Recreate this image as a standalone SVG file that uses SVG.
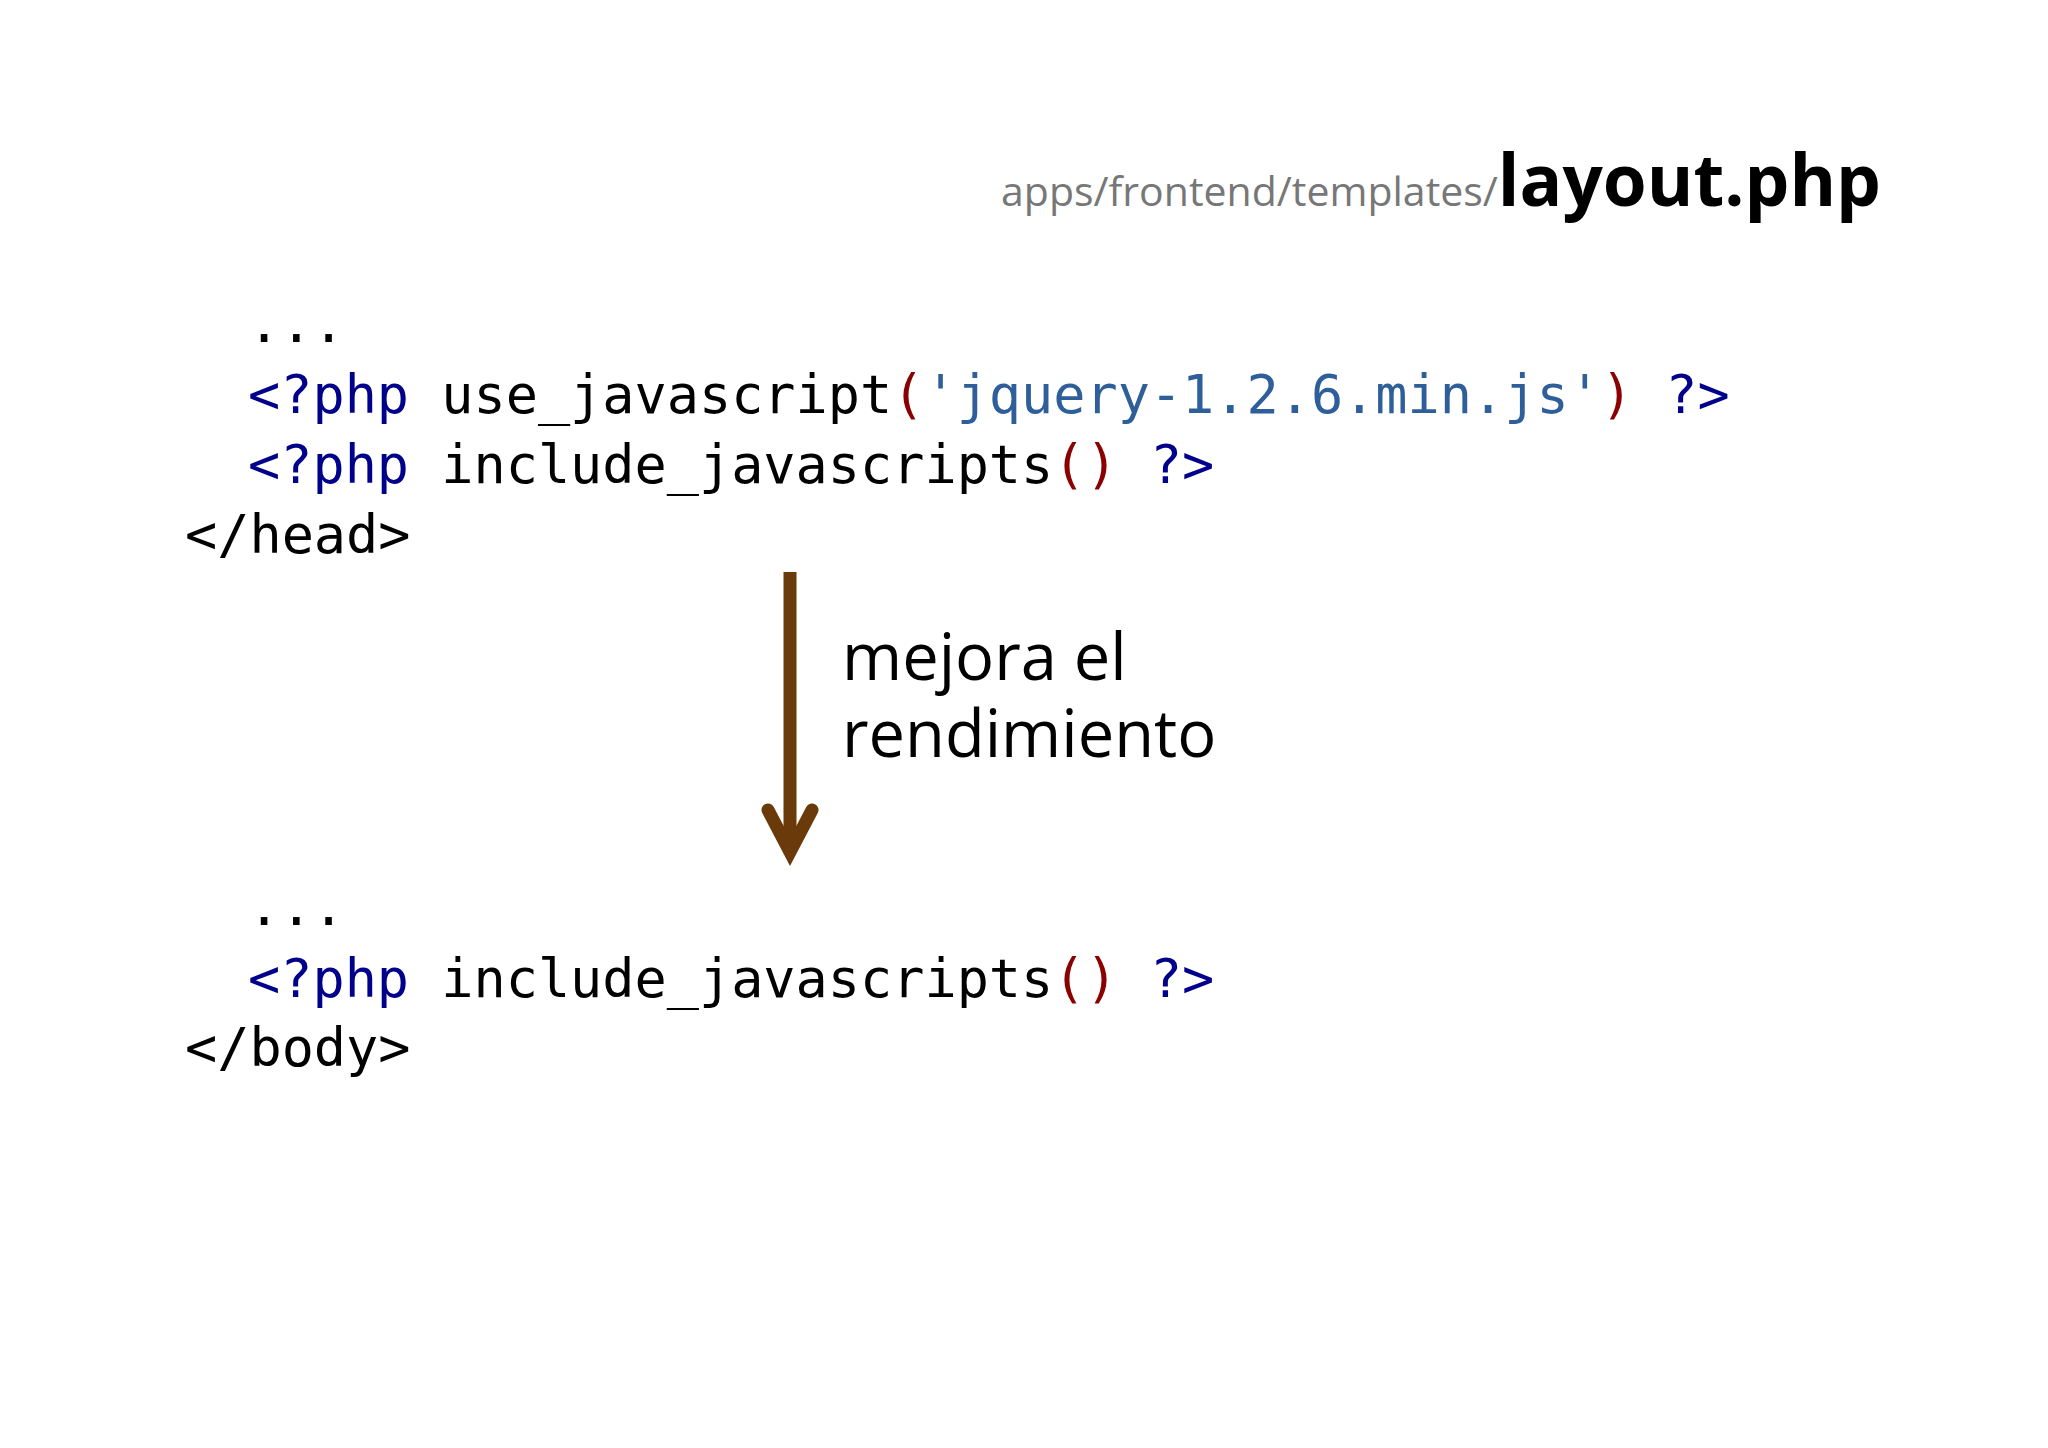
<svg xmlns="http://www.w3.org/2000/svg" width="2048" height="1448" viewBox="0 0 2048 1448">
<style>
.c{font-family:"DejaVu Sans Mono","Liberation Mono",monospace;font-size:53.5px;fill:#000}
.k{fill:#00008b}.p{fill:#8b0000}.s{fill:#2f5f9a}
.t{font-family:"Open Sans","Noto Sans",sans-serif;fill:#000}
</style>
<rect width="2048" height="1448" fill="#fff"/>
<g id="title">
<text x="1881" y="206" text-anchor="end" class="t"><tspan font-size="41" fill="#777">apps/frontend/templates/</tspan><tspan font-size="71" font-weight="bold">layout.php</tspan></text>
</g>
<g id="before">
<text x="248" y="342" class="c">...</text>
<text x="248" y="413" class="c"><tspan class="k">&lt;?php</tspan> use_javascript<tspan class="p">(</tspan><tspan class="s">'jquery-1.2.6.min.js'</tspan><tspan class="p">)</tspan> <tspan class="k">?&gt;</tspan></text>
<text x="248" y="483" class="c"><tspan class="k">&lt;?php</tspan> include_javascripts<tspan class="p">()</tspan> <tspan class="k">?&gt;</tspan></text>
<text x="185" y="553" class="c">&lt;/head&gt;</text>
</g>
<g id="connectors">
<line x1="790" y1="572" x2="790" y2="850" stroke="#6b3a0a" stroke-width="13"/>
<path d="M768 810 L790 852 L812 810" fill="none" stroke="#6b3a0a" stroke-width="13" stroke-linecap="round" stroke-linejoin="miter"/>
</g>
<g id="label">
<text x="842" y="680" class="t" font-size="65">mejora el</text>
<text x="842" y="757" class="t" font-size="65">rendimiento</text>
</g>
<g id="after">
<text x="248" y="925" class="c">...</text>
<text x="248" y="997" class="c"><tspan class="k">&lt;?php</tspan> include_javascripts<tspan class="p">()</tspan> <tspan class="k">?&gt;</tspan></text>
<text x="185" y="1066" class="c">&lt;/body&gt;</text>
</g>
</svg>
